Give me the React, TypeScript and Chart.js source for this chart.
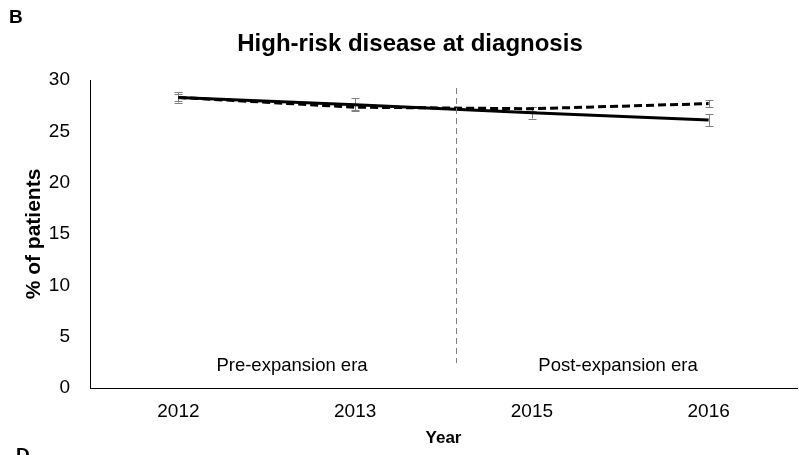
import React, { useEffect, useRef } from "react";
import { Chart, registerables } from "chart.js";

Chart.register(...registerables);

const years = ["2012", "2013", "2015", "2016"];
const solidValues = [28.3, 27.6, 26.8, 26.1];
const solidErrors = [0.5, 0.6, 0.55, 0.6];
const dashedValues = [28.3, 27.35, 27.2, 27.7];
const dashedErrors = [0.3, 0.3, 0.2, 0.35];
const yMin = 0;
const yMax = 30;
const yStep = 5;
const chartTitle = "High-risk disease at diagnosis";
const xTitle = "Year";
const yTitle = "% of patients";
const eraLabels = ["Pre-expansion era", "Post-expansion era"];
const panelLabels = ["B", "D"];

const FONT = "'Liberation Sans', Arial, sans-serif";

const errorBarPlugin = {
  id: "errorBars",
  beforeDatasetsDraw(chart: any) {
    const { ctx } = chart;
    const y = chart.scales.y;
    chart.data.datasets.forEach((ds: any, di: number) => {
      const meta = chart.getDatasetMeta(di);
      const errs: number[] = ds.errors || [];
      ctx.save();
      ctx.strokeStyle = "#7f7f7f";
      ctx.lineWidth = 1;
      meta.data.forEach((pt: any, i: number) => {
        const v = ds.data[i];
        const e = errs[i];
        if (e == null) return;
        const x = Math.round(pt.x) + 0.5;
        const top = y.getPixelForValue(v + e);
        const bot = y.getPixelForValue(v - e);
        ctx.beginPath();
        ctx.moveTo(x, top);
        ctx.lineTo(x, bot);
        ctx.moveTo(x - 4, Math.round(top) + 0.5);
        ctx.lineTo(x + 4, Math.round(top) + 0.5);
        ctx.moveTo(x - 4, Math.round(bot) + 0.5);
        ctx.lineTo(x + 4, Math.round(bot) + 0.5);
        ctx.stroke();
      });
      ctx.restore();
    });
  },
};

const annotationPlugin = {
  id: "annotations",
  afterDraw(chart: any) {
    const { ctx, chartArea } = chart;
    const x = chart.scales.x;
    ctx.save();
    const p1 = x.getPixelForValue(1);
    const p2 = x.getPixelForValue(2);
    const dx = Math.round(p1 + (p2 - p1) * 0.57) + 0.5;
    ctx.strokeStyle = "#7f7f7f";
    ctx.lineWidth = 1;
    ctx.setLineDash([6, 4]);
    ctx.beginPath();
    ctx.moveTo(dx, chartArea.top + 8);
    ctx.lineTo(dx, chartArea.bottom - 25);
    ctx.stroke();
    ctx.setLineDash([]);

    ctx.fillStyle = "#000";
    ctx.textAlign = "center";
    ctx.textBaseline = "middle";
    ctx.font = `18.5px ${FONT}`;
    ctx.fillText(eraLabels[0], 292, chartArea.bottom - 22);
    ctx.fillText(eraLabels[1], 618, chartArea.bottom - 22);

    ctx.font = `bold 24px ${FONT}`;
    ctx.textBaseline = "alphabetic";
    ctx.fillText(chartTitle, 410, 51);

    ctx.textAlign = "left";
    ctx.font = `bold 19px ${FONT}`;
    ctx.fillText(panelLabels[0], 9, 23);
    ctx.fillText(panelLabels[1], 16, 461);
    ctx.restore();
  },
};

export default function App() {
  const ref = useRef<HTMLCanvasElement | null>(null);
  useEffect(() => {
    if (!ref.current) return;
    const chart = new Chart(ref.current, {
      type: "line",
      data: {
        labels: years,
        datasets: [
          {
            label: "Observed",
            data: solidValues,
            errors: solidErrors,
            borderColor: "#000",
            borderWidth: 3,
            pointRadius: 0,
            tension: 0,
            fill: false,
          } as any,
          {
            label: "Expected",
            data: dashedValues,
            errors: dashedErrors,
            borderColor: "#000",
            borderWidth: 3,
            borderDash: [8, 4],
            pointRadius: 0,
            tension: 0,
            fill: false,
          } as any,
        ],
      },
      options: {
        animation: false,
        responsive: false,
        devicePixelRatio: 1,
        layout: { padding: { top: 80, right: 2, left: 0, bottom: 0 } },
        plugins: {
          legend: { display: false },
          title: { display: false },
          tooltip: { enabled: false },
        },
        scales: {
          x: {
            type: "category",
            offset: true,
            grid: { display: false, drawTicks: false },
            border: { display: true, color: "#000", width: 1 },
            ticks: { color: "#000", font: { family: FONT, size: 19 }, padding: 12 },
            title: {
              display: true,
              text: xTitle,
              color: "#000",
              font: { family: FONT, size: 17, weight: "bold" },
              padding: { top: 0, bottom: 6 },
            },
            afterFit: (s: any) => {
              s.height = 67;
            },
          },
          y: {
            min: yMin,
            max: yMax,
            grid: { display: false, drawTicks: false },
            border: { display: true, color: "#000", width: 1 },
            ticks: { stepSize: yStep, color: "#000", font: { family: FONT, size: 19 }, padding: 20 },
            title: {
              display: true,
              text: yTitle,
              color: "#000",
              font: { family: FONT, size: 21, weight: "bold" },
              padding: { top: 22, bottom: 0 },
            },
            afterFit: (s: any) => {
              s.width = 90;
            },
          },
        },
      } as any,
      plugins: [errorBarPlugin, annotationPlugin],
    });
    return () => chart.destroy();
  }, []);
  return (
    <div style={{ position: "fixed", left: 0, top: 0, width: 799, height: 455, background: "#fff" }}>
      <canvas ref={ref} width={799} height={455} style={{ width: 799, height: 455 }} />
    </div>
  );
}
